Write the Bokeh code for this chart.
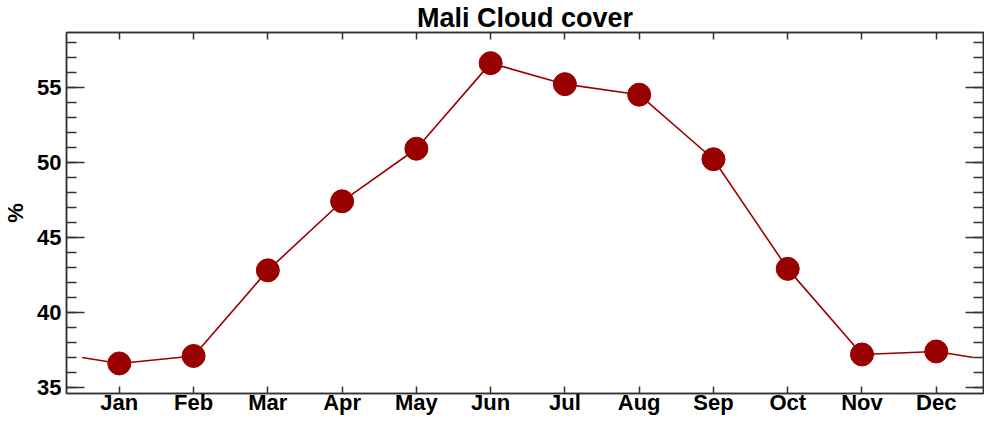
from bokeh.plotting import figure
from bokeh.models import LinearAxis, SingleIntervalTicker, FixedTicker, Range1d, ColumnDataSource
from bokeh.embed import file_html
from bokeh.resources import INLINE

months = ["Jan", "Feb", "Mar", "Apr", "May", "Jun", "Jul", "Aug", "Sep", "Oct", "Nov", "Dec"]
month_pos = [1, 2, 3, 4, 5, 6, 7, 8, 9, 10, 11, 12]
cloud = [36.6, 37.1, 42.8, 47.4, 50.9, 56.6, 55.2, 54.5, 50.2, 42.9, 37.2, 37.4]
title_text = "Mali Cloud cover"
y_label = "%"

# cyclic line: continues half a month beyond each end (annual cycle)
edge_val = (cloud[0] + cloud[-1]) / 2.0
line_x = [month_pos[0] - 0.5] + month_pos + [month_pos[-1] + 0.5]
line_y = [edge_val] + cloud + [edge_val]

RED = "#990000"
FRAME = "#333333"
FONT = "Liberation Sans"

x0, x1 = 0.289, 12.636
y0, y1 = 34.6, 58.64

p = figure(width=984, height=417, x_range=Range1d(x0, x1), y_range=Range1d(y0, y1),
           output_backend="svg", toolbar_location=None,
           x_axis_location=None, y_axis_location=None,
           min_border_left=50, min_border_right=1, min_border_top=0, min_border_bottom=0)
p.xgrid.visible = False
p.ygrid.visible = False
p.outline_line_color = FRAME
p.outline_line_width = 1.5
p.background_fill_color = "white"
p.border_fill_color = "white"

p.title.text = title_text
p.title.align = "center"
p.title.text_font = FONT
p.title.text_font_style = "bold"
p.title.text_font_size = "27px"
p.title.text_color = "black"
p.title.standoff = 0
p.title.offset = 0


def style_axis(ax, labels=True, tick_in=7, minor_in=0):
    ax.axis_line_color = FRAME
    ax.axis_line_width = 1.5
    ax.major_tick_line_color = FRAME
    ax.major_tick_line_width = 1.5
    ax.major_tick_in = tick_in
    ax.major_tick_out = 0
    ax.minor_tick_line_color = FRAME
    ax.minor_tick_line_width = 1.5
    ax.minor_tick_in = minor_in
    ax.minor_tick_out = 0
    ax.axis_label_standoff = 0
    ax.major_label_text_font = FONT
    ax.major_label_text_font_style = "bold"
    ax.major_label_text_color = "black"
    ax.major_label_text_font_size = "22px"
    if not labels:
        ax.major_label_text_color = None
        ax.major_label_text_font_size = "1px"
        ax.major_label_standoff = 0


xb = LinearAxis(ticker=FixedTicker(ticks=month_pos, minor_ticks=[]),
                major_label_overrides={m: n for m, n in zip(month_pos, months)},
                axis_label=None)
style_axis(xb, labels=True, tick_in=7)
xb.major_label_standoff = -4
p.add_layout(xb, "below")

xt = LinearAxis(ticker=FixedTicker(ticks=month_pos, minor_ticks=[]), axis_label=None)
style_axis(xt, labels=False, tick_in=7)
p.add_layout(xt, "above")

yl = LinearAxis(ticker=SingleIntervalTicker(interval=5, num_minor_ticks=5), axis_label=y_label)
style_axis(yl, labels=True, tick_in=18, minor_in=10)
yl.major_label_standoff = 5
yl.axis_label_standoff = 6
yl.axis_label_text_font = FONT
yl.axis_label_text_font_style = "bold"
yl.axis_label_text_font_size = "22px"
yl.axis_label_text_color = "black"
p.add_layout(yl, "left")

yr = LinearAxis(ticker=SingleIntervalTicker(interval=5, num_minor_ticks=5), axis_label=None)
style_axis(yr, labels=False, tick_in=18, minor_in=10)
p.add_layout(yr, "right")

p.line(line_x, line_y, line_color=RED, line_width=1.6)
src = ColumnDataSource(dict(x=month_pos, y=cloud))
p.scatter("x", "y", source=src, size=23, fill_color=RED, line_color=RED)

open("out.html", "w").write(file_html(p, INLINE))
